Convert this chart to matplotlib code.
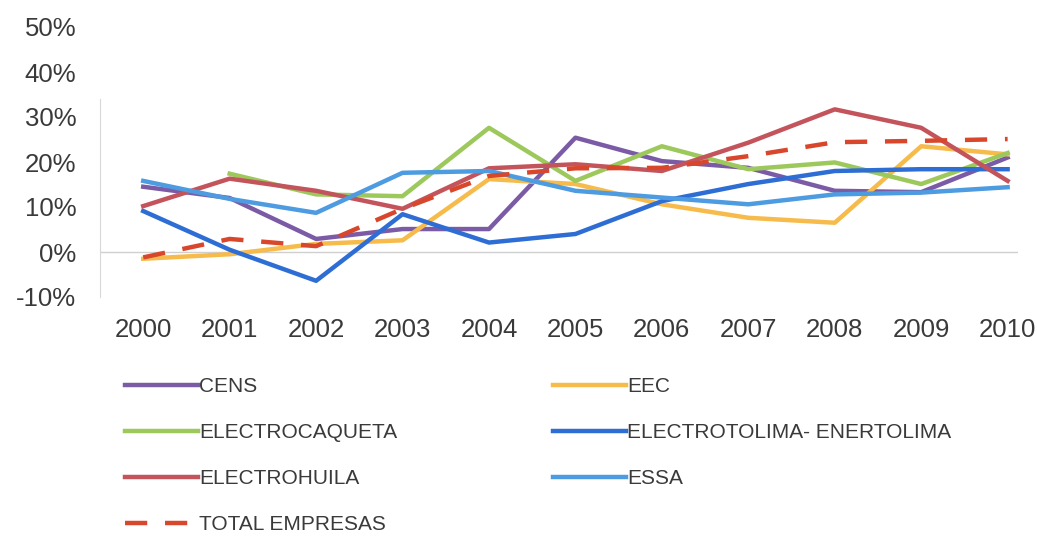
import matplotlib.pyplot as plt
from matplotlib.ticker import PercentFormatter

plt.rcParams['font.family'] = ['Liberation Sans', 'DejaVu Sans']
plt.rcParams['axes.unicode_minus'] = False

years = ['2000', '2001', '2002', '2003', '2004', '2005', '2006', '2007', '2008', '2009', '2010']

# growth rates in %
cens = [14.5, 12.0, 2.9, 5.1, 5.1, 25.4, 20.2, 18.7, 13.6, 13.3, 21.0]
eec = [-1.5, -0.5, 1.8, 2.6, 16.2, 15.1, 10.6, 7.6, 6.5, 23.5, 21.7]
electrocaqueta = [None, 17.4, 12.8, 12.4, 27.6, 15.8, 23.5, 18.4, 19.9, 15.1, 22.0]
electrotolima = [9.1, 0.5, -6.4, 8.4, 2.1, 4.0, 11.3, 15.1, 18.0, 18.4, 18.4]
electrohuila = [10.2, 16.3, 13.6, 9.6, 18.6, 19.5, 18.0, 24.3, 31.7, 27.6, 15.8]
essa = [15.8, 11.8, 8.7, 17.6, 18.0, 13.6, 12.1, 10.6, 12.8, 13.2, 14.4]
total = [-1.2, 2.9, 1.3, 9.6, 16.9, 18.6, 18.7, 21.3, 24.4, 24.7, 25.1]

series = [
    ('CENS', cens, '#7b5ba6', '-'),
    ('EEC', eec, '#f6bb4a', '-'),
    ('ELECTROCAQUETA', electrocaqueta, '#9cc85c', '-'),
    ('ELECTROTOLIMA- ENERTOLIMA', electrotolima, '#2e6ed4', '-'),
    ('ELECTROHUILA', electrohuila, '#c4545c', '-'),
    ('ESSA', essa, '#4d9be0', '-'),
    ('TOTAL EMPRESAS', total, '#d8472b', '--'),
]

fig = plt.figure(figsize=(10.37, 5.38), dpi=100)
ax = fig.add_axes([100 / 1037, 1 - 297 / 538, 918 / 1037, 270 / 538])

x = list(range(len(years)))
handles = {}
for name, vals, color, ls in series:
    xs = [i for i, v in zip(x, vals) if v is not None]
    ys = [v for v in vals if v is not None]
    if ls == '--':
        line, = ax.plot(xs, ys, color=color, lw=3.2, ls=(0, (5, 4)), label=name)
    else:
        line, = ax.plot(xs, ys, color=color, lw=3.2, label=name)
    handles[name] = line

ax.axhline(0, color='#d0d0d0', lw=1, zorder=0)
ax.set_xlim(-0.5, 10.12)
ax.set_ylim(-10, 50)
ax.set_yticks(range(-10, 51, 10))
ax.yaxis.set_major_formatter(PercentFormatter(decimals=0))
ax.set_xticks(x)
ax.set_xticklabels(years)
ax.tick_params(length=0, labelsize=18.5, colors='#3a3a3a')
ax.tick_params(axis='y', pad=17)
ax.tick_params(axis='x', pad=15)
for s in ['top', 'right', 'bottom']:
    ax.spines[s].set_visible(False)
ax.spines['left'].set_color('#d8d8d8')
ax.spines['left'].set_bounds(-10, 34)

left_names = ['CENS', 'ELECTROCAQUETA', 'ELECTROHUILA', 'TOTAL EMPRESAS']
right_names = ['EEC', 'ELECTROTOLIMA- ENERTOLIMA', 'ESSA']
leg_kw = dict(frameon=False, fontsize=15, handlelength=3.5, handletextpad=0.05,
              labelspacing=1.3, labelcolor='#3a3a3a', borderaxespad=0, borderpad=0)
leg1 = fig.legend([handles[n] for n in left_names], left_names,
                  loc='upper left', bbox_to_anchor=(125 / 1037, 1 - 377 / 538), **leg_kw)
leg2 = fig.legend([handles[n] for n in right_names], right_names,
                  loc='upper left', bbox_to_anchor=(553 / 1037, 1 - 377 / 538), **leg_kw)

fig.savefig('out.png', dpi=100)
